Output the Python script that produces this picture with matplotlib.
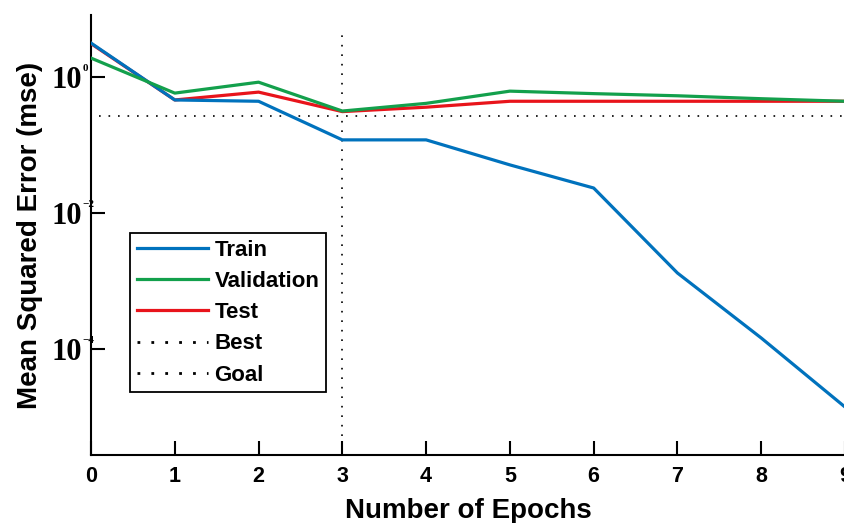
import matplotlib
matplotlib.use("Agg")
import matplotlib.pyplot as plt
from matplotlib.lines import Line2D
from matplotlib.ticker import FixedLocator, FuncFormatter, NullLocator

# performance per epoch (mse)
epochs = [0, 1, 2, 3, 4, 5, 6, 7, 8, 9]
train = [3.16, 0.46, 0.44, 0.119, 0.119, 0.051, 0.0233, 0.00131, 0.000145, 0.000014]
validation = [1.9, 0.58, 0.84, 0.316, 0.41, 0.62, 0.57, 0.53, 0.48, 0.44]
test = [3.1, 0.46, 0.60, 0.31, 0.36, 0.44, 0.44, 0.44, 0.44, 0.44]

best_epoch = 3
best_top = 5.3
goal = 0.267
goal_start = 0.1

y_ticks = [1e-4, 1e-2, 1e0]
y_exps = ["\u22124", "\u22122", "0"]
x_ticks = list(range(10))

BLUE = "#0072BD"
GREEN = "#13A04C"
RED = "#E8141B"

plt.rcParams["font.family"] = "Liberation Sans"
plt.rcParams["font.weight"] = "bold"


def main():
    fig = plt.figure(figsize=(8.45, 5.23), dpi=100)
    ax = fig.add_axes([0.1077, 0.130, 0.8923, 0.841])

    ax.set_yscale("log")
    ax.set_xlim(0, 9)
    ax.set_ylim(10 ** -5.56, 10 ** 0.91)

    ax.plot(epochs, test, color=RED, lw=2.3, zorder=3)
    ax.plot(epochs, train, color=BLUE, lw=2.3, zorder=4)
    ax.plot(epochs, validation, color=GREEN, lw=2.3, zorder=5)

    dots = (0, (1, 4.7))
    ylo = ax.get_ylim()[0]
    ax.plot([best_epoch, best_epoch], [ylo, best_top], color="black",
            lw=1.2, linestyle=dots, zorder=2)
    ax.plot([goal_start, epochs[-1]], [goal, goal], color="black",
            lw=1.2, linestyle=dots, zorder=2)

    for side in ("top", "right"):
        ax.spines[side].set_visible(False)
    for side in ("left", "bottom"):
        ax.spines[side].set_linewidth(1.5)

    ax.xaxis.set_major_locator(FixedLocator(x_ticks))
    ax.yaxis.set_major_locator(FixedLocator(y_ticks))
    ax.yaxis.set_minor_locator(NullLocator())
    ax.tick_params(axis="both", direction="in", length=10, width=1.5)
    ax.tick_params(axis="x", pad=8, labelsize=15.5)
    ax.tick_params(axis="y", pad=6.5, labelsize=22)

    ax.yaxis.set_major_formatter(FuncFormatter(lambda v, p: "10"))
    for lab in ax.get_yticklabels():
        lab.set_fontfamily("Liberation Serif")
        lab.set_fontweight("bold")
    for t, e in zip(y_ticks, y_exps):
        ax.annotate(e, xy=(0, t), xycoords=("axes fraction", "data"),
                    xytext=(-6.3, 3), textcoords="offset points",
                    ha="left", va="bottom", fontsize=8,
                    family="Liberation Serif", weight="bold",
                    annotation_clip=False)

    ax.set_xlabel("Number of Epochs", fontsize=20, fontweight="bold", labelpad=8)
    ax.set_ylabel("Mean Squared Error (mse)", fontsize=20, fontweight="bold")
    ax.yaxis.set_label_coords(-0.064, 0.5)

    legend_dots = (0, (1, 4))
    handles = [
        Line2D([], [], color=BLUE, lw=2.3),
        Line2D([], [], color=GREEN, lw=2.3),
        Line2D([], [], color=RED, lw=2.3),
        Line2D([], [], color="black", lw=2, linestyle=legend_dots),
        Line2D([], [], color="black", lw=2, linestyle=legend_dots),
    ]
    labels = ["Train", "Validation", "Test", "Best", "Goal"]
    leg = ax.legend(handles, labels, loc="upper left",
                    bbox_to_anchor=(0.0517, 0.5045), borderaxespad=0,
                    fancybox=False, framealpha=1, edgecolor="black",
                    fontsize=16, handlelength=3.2, handletextpad=0.3,
                    borderpad=0.3, labelspacing=0.46)
    leg.get_frame().set_linewidth(1.3)
    for txt in leg.get_texts():
        txt.set_fontweight("bold")

    fig.savefig("out.png", dpi=100)


if __name__ == "__main__":
    main()
